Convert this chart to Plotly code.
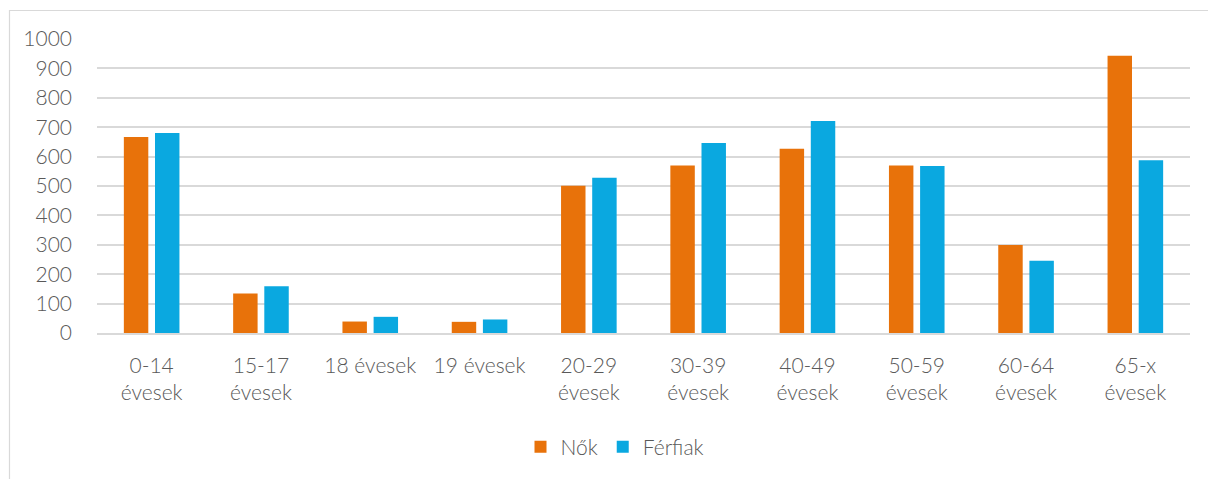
import plotly.graph_objects as go

categories = ["0-14<br>évesek", "15-17<br>évesek", "18 évesek", "19 évesek", "20-29<br>évesek",
              "30-39<br>évesek", "40-49<br>évesek", "50-59<br>évesek", "60-64<br>évesek", "65-x<br>évesek"]
nok = [667, 134, 39, 38, 501, 570, 627, 570, 299, 943]
ferfiak = [680, 159, 55, 46, 528, 646, 721, 568, 246, 588]
y_ticks = [0, 100, 200, 300, 400, 500, 600, 700, 800, 900, 1000]

ORANGE = "#E8720A"
BLUE = "#0AA8E0"
TEXT = "#595959"
FONT = "Lato"
FS = 21
FW = 300

fig = go.Figure()
fig.add_trace(go.Bar(name="Nők", x=categories, y=nok, marker=dict(color=ORANGE, line=dict(width=0))))
fig.add_trace(go.Bar(name="Férfiak", x=categories, y=ferfiak, marker=dict(color=BLUE, line=dict(width=0))))

L, R, T, B = 97, 18, 39, 146
W, H = 1208, 479
pw = W - L - R
ph = H - T - B

def px2x(px):
    return (px - L) / pw

def py2y(py):
    return (H - B - py) / ph

fig.update_layout(
    width=W, height=H,
    margin=dict(l=L, r=R, t=T, b=B, pad=0),
    paper_bgcolor="white", plot_bgcolor="white",
    barmode="group", bargap=0.43, bargroupgap=0.215,
    font=dict(family=FONT, size=FS, color=TEXT, weight=FW),
    showlegend=True,
    legend=dict(orientation="h", x=px2x(615), xanchor="center", y=py2y(447), yanchor="middle",
                font=dict(size=FS, color=TEXT, weight=FW), itemsizing="constant", traceorder="normal",
                itemwidth=30),
    xaxis=dict(showgrid=False, showline=True, linecolor="#D9D9D9", linewidth=1.5,
               ticks="", tickfont=dict(size=FS, color=TEXT, weight=FW), ticklabelstandoff=13,
               fixedrange=True),
    yaxis=dict(range=[0, 1000], tickvals=y_ticks, showgrid=True, gridcolor="#D9D9D9",
               gridwidth=1.5, zeroline=False, showline=False, ticks="",
               tickfont=dict(size=FS, color=TEXT, weight=FW), ticklabelstandoff=24, fixedrange=True),
    shapes=[dict(type="rect", xref="paper", yref="paper",
                 x0=px2x(9.5), x1=px2x(1215), y0=py2y(490), y1=py2y(10.5),
                 line=dict(color="#D9D9D9", width=1.2), fillcolor="rgba(0,0,0,0)", layer="below")],
)

fig.write_html("out.html", config={"displayModeBar": False},
               post_script="document.body.style.margin='0px';document.body.style.overflow='hidden';")
